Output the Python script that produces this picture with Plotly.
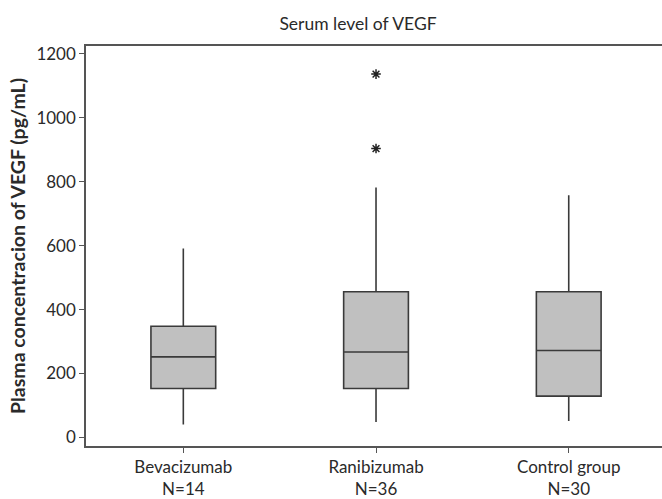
import plotly.graph_objects as go

categories = ["Bevacizumab", "Ranibizumab", "Control group"]
n_labels = ["N=14", "N=36", "N=30"]
lower_whisker = [40, 48, 51]
q1 = [153, 153, 129]
median = [252, 267, 272]
q3 = [348, 456, 456]
upper_whisker = [591, 782, 758]
outlier_group = ["Ranibizumab", "Ranibizumab"]
outlier_values = [904, 1137]
y_ticks = [0, 200, 400, 600, 800, 1000, 1200]

xpos = list(range(len(categories)))
ticktext = [f"{c}<br>{n}" for c, n in zip(categories, n_labels)]
out_x = [categories.index(g) for g in outlier_group]

line_col = "#3a3a3a"
font_fam = "Lato, 'Open Sans', sans-serif"

fig = go.Figure()
fig.add_trace(go.Box(
    x=xpos, q1=q1, median=median, q3=q3,
    lowerfence=lower_whisker, upperfence=upper_whisker,
    fillcolor="#c0c0c0", line=dict(color=line_col, width=1.6),
    width=0.336, whiskerwidth=0, boxpoints=False, showlegend=False,
    hoverinfo="skip"
))
fig.add_trace(go.Scatter(
    x=out_x, y=outlier_values, mode="markers",
    marker=dict(symbol="asterisk-open", size=8, color="#222",
                line=dict(color="#222", width=1.5)),
    showlegend=False
))

fig.update_layout(
    width=662, height=499,
    margin=dict(l=86, r=0, t=46, b=53),
    paper_bgcolor="white", plot_bgcolor="white",
    font=dict(family=font_fam, size=17, color="#2a2a2a"),
    title=dict(text="Serum level of VEGF", x=358/662, xanchor="center",
               y=1 - 24/499, yanchor="middle",
               font=dict(family=font_fam, size=17.5, color="#2a2a2a")),
    showlegend=False,
)
fig.update_xaxes(
    range=[-0.505, 2.484], tickmode="array", tickvals=xpos, ticktext=ticktext,
    showline=True, linecolor="#555", linewidth=1.5, mirror=True,
    ticks="outside", ticklen=5, tickcolor="#555", tickwidth=1.2,
    showgrid=False, zeroline=False, tickfont=dict(size=17),
    automargin=False,
)
fig.update_yaxes(
    range=[-27, 1225], tickvals=y_ticks,
    showline=True, linecolor="#555", linewidth=1.5, mirror=False,
    ticks="outside", ticklen=5, tickcolor="#555", tickwidth=1.2,
    showgrid=False, zeroline=False, tickfont=dict(size=17),
    title=dict(text="<b>Plasma concentracion of VEGF (pg/mL)</b>",
               font=dict(size=19.5), standoff=6),
    automargin=False,
)

fig.write_html("out.html", config={"displayModeBar": False},
               post_script="document.body.style.margin='0';")
